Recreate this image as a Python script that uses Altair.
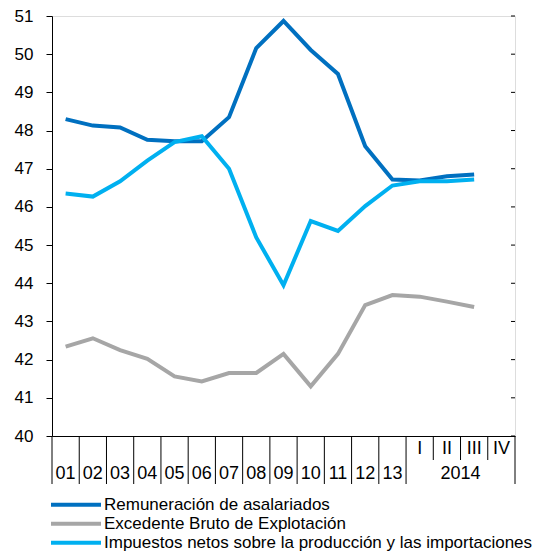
import altair as alt
import pandas as pd

categories = ["01", "02", "03", "04", "05", "06", "07", "08", "09", "10",
              "11", "12", "13", "I", "II", "III", "IV"]
year_labels = ["01", "02", "03", "04", "05", "06", "07", "08", "09", "10",
               "11", "12", "13"]
quarter_labels = ["I", "II", "III", "IV"]
year_2014 = "2014"

series_names = ["Remuneración de asalariados",
                "Excedente Bruto de Explotación",
                "Impuestos netos sobre la producción y las importaciones"]
series_colors = ["#0070C0", "#A6A6A6", "#00B0F0"]

remuneracion = [48.30, 48.13, 48.08, 47.76, 47.72, 47.72, 48.35, 50.16,
                50.87, 50.11, 49.48, 47.59, 46.72, 46.69, 46.80, 46.85]
excedente = [42.34, 42.56, 42.25, 42.02, 41.56, 41.43, 41.65, 41.65,
             42.15, 41.30, 42.15, 43.43, 43.69, 43.65, 43.52, 43.38]
impuestos = [9.35, 9.27, 9.67, 10.21, 10.70, 10.85, 10.00, 8.20,
             6.95, 8.63, 8.37, 9.02, 9.56, 9.67, 9.67, 9.72]

left_ticks = list(range(40, 52))
right_ticks = list(range(3, 15))

W, H = 463, 420
FONT = "Liberation Sans"

n = len(categories)
left_rows = []
for i, v in enumerate(remuneracion):
    left_rows.append({"x": i + 0.5, "v": v, "serie": series_names[0]})
for i, v in enumerate(excedente):
    left_rows.append({"x": i + 0.5, "v": v, "serie": series_names[1]})
right_rows = [{"x": i + 0.5, "v": v, "serie": series_names[2]}
              for i, v in enumerate(impuestos)]
df_left = pd.DataFrame(left_rows)
df_right = pd.DataFrame(right_rows)

n_years = len(year_labels)
full_seps = pd.DataFrame({"x": list(range(0, n_years + 1)) + [n]})
short_seps = pd.DataFrame({"x": list(range(n_years + 1, n))})
df_years = pd.DataFrame({"x": [i + 0.5 for i in range(n_years)], "t": year_labels})
df_quarters = pd.DataFrame({"x": [n_years + i + 0.5 for i in range(len(quarter_labels))],
                            "t": quarter_labels})
df_2014 = pd.DataFrame({"x": [n_years + len(quarter_labels) / 2], "t": [year_2014]})
df_rticks = pd.DataFrame({"v": right_ticks})

X = alt.X("x:Q", scale=alt.Scale(domain=[0, n], nice=False, zero=False),
          axis=alt.Axis(labels=False, ticks=False, grid=False, title=None,
                        domainColor="black", domainWidth=1))

color = alt.Color("serie:N",
                  scale=alt.Scale(domain=series_names, range=series_colors),
                  legend=alt.Legend(title=None, orient="none", legendX=-3, legendY=480,
                                    symbolType="stroke", symbolSize=2500,
                                    symbolStrokeWidth=4, clipHeight=17.5,
                                    rowPadding=0, labelFontSize=17, labelFont=FONT,
                                    labelColor="black", labelOffset=1, padding=0,
                                    labelLimit=600))

y_left = alt.Y("v:Q", scale=alt.Scale(domain=[40, 51], nice=False, zero=False),
               axis=alt.Axis(orient="left", values=left_ticks, grid=False, title=None,
                             tickSize=6, labelPadding=13, labelFontSize=17,
                             labelFont=FONT, labelColor="black", domainColor="black",
                             tickColor="black"))
y_right = alt.Y("v:Q", scale=alt.Scale(domain=[3, 14], nice=False, zero=False),
                axis=alt.Axis(orient="right", values=right_ticks, grid=False, title=None,
                              tickSize=0, labelPadding=3, labelFontSize=17,
                              labelFont=FONT, labelColor="black", domainColor="black"))

lines_left = alt.Chart(df_left).mark_line(strokeWidth=4).encode(x=X, y=y_left, color=color)
line_right = alt.Chart(df_right).mark_line(strokeWidth=4).encode(x=X, y=y_right, color=color)
rticks = alt.Chart(df_rticks).mark_rule(color="black", strokeWidth=1).encode(
    y=alt.Y("v:Q", scale=alt.Scale(domain=[3, 14], nice=False, zero=False), axis=None),
    x=alt.value(W - 4), x2=alt.value(W))

sep_full = alt.Chart(full_seps).mark_rule(color="black", strokeWidth=1).encode(
    x=X, y=alt.value(H), y2=alt.value(H + 48))
sep_short = alt.Chart(short_seps).mark_rule(color="black", strokeWidth=1).encode(
    x=X, y=alt.value(H), y2=alt.value(H + 24))
txt_years = alt.Chart(df_years).mark_text(fontSize=18, font=FONT, color="black",
                                          baseline="middle").encode(
    x=X, y=alt.value(H + 38), text="t:N")
txt_quarters = alt.Chart(df_quarters).mark_text(fontSize=18, font=FONT, color="black",
                                                baseline="middle").encode(
    x=X, y=alt.value(H + 13), text="t:N")
txt_2014 = alt.Chart(df_2014).mark_text(fontSize=18, font=FONT, color="black",
                                        baseline="middle").encode(
    x=X, y=alt.value(H + 38), text="t:N")

left = alt.layer(sep_full, sep_short, txt_years, txt_quarters, txt_2014, lines_left)
right = alt.layer(line_right, rticks)

chart = alt.layer(left, right).resolve_scale(y="independent").properties(
    width=W, height=H,
    autosize=alt.AutoSizeParams(type="none"),
    padding={"left": 44, "top": 8, "right": 22, "bottom": 117},
).configure_view(stroke=None).configure(background="white")

chart.save("out.html", embed_options={"renderer": "svg", "actions": False})
